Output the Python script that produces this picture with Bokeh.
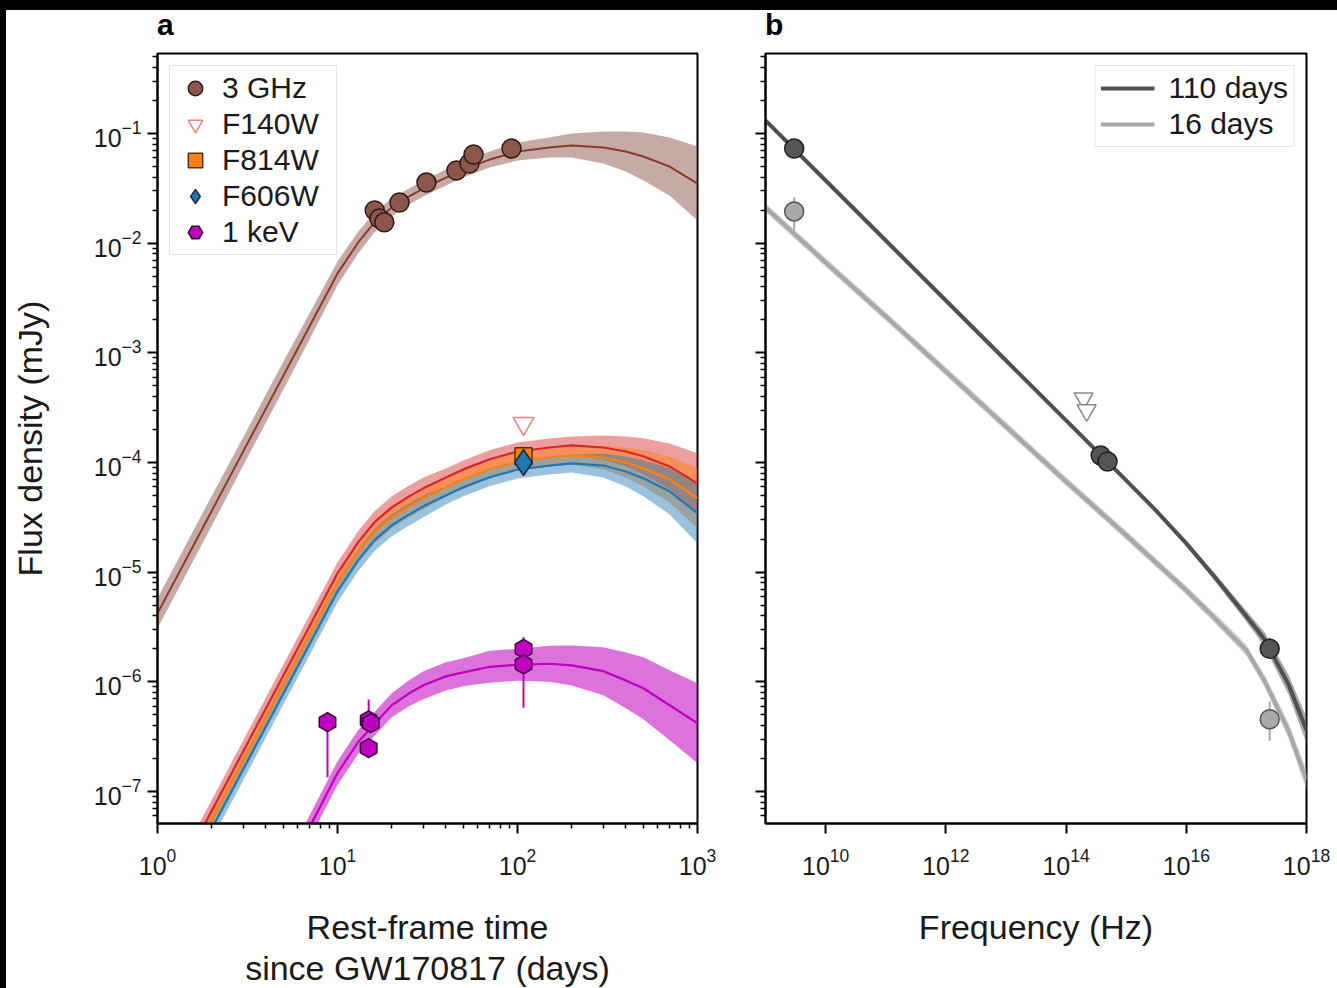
from bokeh.plotting import figure
from bokeh.models import FixedTicker, Legend, LegendItem, Div, CustomJSTickFormatter
from bokeh.layouts import row, column
from bokeh.embed import file_html
from bokeh.resources import INLINE

FONT = "Liberation Sans"

# ---------------- Panel a : light curves ----------------
radio_t = [16.1, 17.1, 18.2, 22.1, 31.2, 45.8, 54.1, 57.0, 92.6]
radio_f = [0.0199, 0.0168, 0.0155, 0.0235, 0.0357, 0.046, 0.0533, 0.0644, 0.073]

f140w_t = [108.0]
f140w_f = [2.27e-4]
f814w_t = [108.0]
f814w_f = [1.14e-4]
f606w_t = [108.0]
f606w_f = [1.0e-4]

xray_t = [8.8, 14.9, 15.3, 14.9, 108.0, 108.0]
xray_f = [4.28e-7, 4.45e-7, 4.2e-7, 2.48e-7, 2.0e-6, 1.44e-6]
xray_lo = [1.35e-7, 4.45e-7, 4.2e-7, 2.48e-7, 2.0e-6, 5.8e-7]
xray_hi = [4.28e-7, 6.9e-7, 4.2e-7, 2.48e-7, 2.55e-6, 1.44e-6]

model_t = [1, 1.5, 2, 3, 4, 5, 7, 10, 13, 16, 20, 25, 30, 40, 50, 70, 100,
           150, 200, 300, 400, 500, 700, 1000]
radio_model = [4.21e-6, 1.48e-5, 3.61e-5, 1.27e-4, 3.10e-4, 6.17e-4, 1.75e-3,
               5.30e-3, 1.01e-2, 1.54e-2, 2.12e-2, 2.67e-2, 3.15e-2, 3.97e-2,
               4.70e-2, 5.79e-2, 6.85e-2, 7.45e-2, 7.77e-2, 7.45e-2, 6.85e-2,
               6.17e-2, 5.00e-2, 3.50e-2]
radio_dex = [0.137, 0.137, 0.137, 0.128, 0.128, 0.128, 0.119, 0.109, 0.100,
             0.091, 0.082, 0.073, 0.073, 0.073, 0.073, 0.073, 0.082, 0.091,
             0.109, 0.146, 0.182, 0.219, 0.264, 0.337]
f140w_model = [7.76e-9, 2.73e-8, 6.65e-8, 2.34e-7, 5.71e-7, 1.14e-6, 3.23e-6,
               9.75e-6, 1.87e-5, 2.84e-5, 3.90e-5, 4.91e-5, 5.81e-5, 7.31e-5,
               8.65e-5, 1.07e-4, 1.26e-4, 1.37e-4, 1.43e-4, 1.37e-4, 1.26e-4,
               1.14e-4, 9.21e-5, 6.45e-5]
f814w_model = [6.29e-9, 2.21e-8, 5.39e-8, 1.90e-7, 4.63e-7, 9.25e-7, 2.62e-6,
               7.91e-6, 1.52e-5, 2.30e-5, 3.16e-5, 3.98e-5, 4.71e-5, 5.93e-5,
               7.02e-5, 8.68e-5, 1.02e-4, 1.11e-4, 1.16e-4, 1.11e-4, 1.00e-4,
               8.86e-5, 7.01e-5, 4.71e-5]
f606w_model = [5.32e-9, 1.87e-8, 4.56e-8, 1.60e-7, 3.91e-7, 7.81e-7, 2.21e-6,
               6.68e-6, 1.28e-5, 1.95e-5, 2.67e-5, 3.36e-5, 3.98e-5, 5.01e-5,
               5.93e-5, 7.33e-5, 8.63e-5, 9.38e-5, 9.80e-5, 9.38e-5, 8.28e-5,
               7.18e-5, 5.45e-5, 3.44e-5]
optical_dex = [0.10, 0.10, 0.10, 0.10, 0.10, 0.10, 0.10, 0.10, 0.10, 0.10,
               0.10, 0.10, 0.10, 0.082, 0.082, 0.082, 0.082, 0.082, 0.082,
               0.109, 0.137, 0.164, 0.21, 0.274]

xray_model_t = [5, 7, 10, 13, 16, 20, 25, 30, 40, 50, 70, 100, 150, 200, 300,
                400, 500, 700, 1000]
xray_model = [1.52e-8, 4.72e-8, 1.47e-7, 2.81e-7, 4.10e-7, 6.11e-7, 7.85e-7,
              9.29e-7, 1.12e-6, 1.22e-6, 1.37e-6, 1.43e-6, 1.46e-6, 1.41e-6,
              1.25e-6, 1.03e-6, 8.73e-7, 6.11e-7, 4.19e-7]
xray_dex = [0.109, 0.109, 0.109, 0.109, 0.109, 0.109, 0.119, 0.128, 0.128,
            0.128, 0.146, 0.146, 0.164, 0.182, 0.219, 0.255, 0.283, 0.319, 0.365]

# ---------------- Panel b : spectra ----------------
nu_model = [1e9, 1e10, 1e11, 1e12, 1e13, 1e14, 1e15, 3e15, 1e16, 3e16, 1e17,
            2e17, 5e17, 1e18]
sed110_model = [0.1314, 3.73e-2, 1.058e-2, 3.00e-3, 8.52e-4, 2.42e-4, 6.87e-5,
                3.74e-5, 1.83e-5, 8.97e-6, 3.96e-6, 2.44e-6, 9.49e-7, 3.61e-7]
sed110_dex = [0.01, 0.01, 0.01, 0.01, 0.01, 0.01, 0.012, 0.015, 0.025, 0.035,
              0.05, 0.065, 0.09, 0.12]
sed16_model = [2.115e-2, 6.67e-3, 2.15e-3, 6.77e-4, 2.13e-4, 6.72e-5, 2.17e-5,
               1.25e-5, 6.83e-6, 3.79e-6, 1.94e-6, 1.02e-6, 3.6e-7, 1.27e-7]
sed16_dex = [0.04, 0.04, 0.04, 0.04, 0.04, 0.04, 0.04, 0.04, 0.04, 0.045,
             0.05, 0.055, 0.07, 0.09]

sed110_nu = [3.0e9, 3.77e14, 4.9e14, 2.44e17]
sed110_f = [0.073, 1.16e-4, 1.02e-4, 2.0e-6]
sed110_lo = [0.073, 1.16e-4, 1.02e-4, 1.7e-6]
sed110_hi = [0.073, 1.16e-4, 1.02e-4, 2.5e-6]
sed110_ul_nu = [1.96e14, 2.2e14]
sed110_ul_f = [3.84e-4, 2.99e-4]
sed16_nu = [3.0e9, 2.44e17]
sed16_f = [0.0195, 4.55e-7]
sed16_lo = [0.0131, 2.9e-7]
sed16_hi = [0.0262, 6.6e-7]


def band(center, dex):
    lo = [c / 10 ** d for c, d in zip(center, dex)]
    hi = [c * 10 ** d for c, d in zip(center, dex)]
    return lo, hi


def decade_ticks(lo_exp, hi_exp):
    major = [10.0 ** e for e in range(lo_exp, hi_exp + 1)]
    minor = [k * 10.0 ** e for e in range(lo_exp - 1, hi_exp + 1) for k in range(2, 10)]
    return major, minor


def style(p):
    for ax in list(p.xaxis) + list(p.yaxis):
        ax.axis_line_width = 2
        ax.axis_line_color = "black"
        ax.major_tick_line_width = 2
        ax.major_tick_line_color = "black"
        ax.minor_tick_line_width = 1.5
        ax.minor_tick_line_color = "black"
        ax.major_tick_out = 10
        ax.major_tick_in = 0
        ax.minor_tick_out = 5
        ax.minor_tick_in = 0
        ax.major_label_text_font = FONT
        ax.major_label_text_font_size = "25px"
        ax.major_label_text_color = "#1a1a1a"
        ax.axis_label_text_font = FONT
        ax.axis_label_text_font_size = "34px"
        ax.axis_label_text_font_style = "normal"
        ax.axis_label_text_line_height = 1.1
        ax.axis_label_text_color = "#1a1a1a"
    p.xgrid.visible = False
    p.ygrid.visible = False
    p.outline_line_color = "black"
    p.outline_line_width = 2


def panel_label(text, width, pad_left):
    html = ('<div style="font-family: \'Liberation Sans\', Arial, sans-serif; font-weight: bold; '
            'font-size: 30px; line-height: 30px; color: black; padding-left: %dpx;">%s</div>'
            % (pad_left, text))
    return Div(text=html, width=width, height=33, margin=0)


Y_RANGE = (5.1e-8, 0.537)
ymaj, ymin = decade_ticks(-7, -1)

# ---------------- figure a ----------------
pa = figure(x_axis_type="log", y_axis_type="log", x_range=(1, 1000), y_range=Y_RANGE,
            frame_width=540, frame_height=770, min_border_left=151, min_border_right=33,
            min_border_top=10, min_border_bottom=165, title=None,
            output_backend="svg", toolbar_location=None)
style(pa)
xmaj, xmin = decade_ticks(0, 3)
pa.xaxis.ticker = FixedTicker(ticks=xmaj, minor_ticks=xmin)
pa.yaxis.ticker = FixedTicker(ticks=ymaj, minor_ticks=ymin)
pa.xaxis.axis_label = "Rest-frame time\nsince GW170817 (days)"
pa.yaxis.axis_label = "Flux density (mJy)"
pa.xaxis.major_label_standoff = 14
pa.yaxis.major_label_standoff = 6
pa.xaxis.axis_label_standoff = 30
pa.yaxis.axis_label_standoff = 42

lo, hi = band(radio_model, radio_dex)
pa.varea(x=model_t, y1=lo, y2=hi, fill_color="#8c564b", fill_alpha=0.5)
for model, col in ((f140w_model, "#d62728"), (f814w_model, "#ff7f0e"), (f606w_model, "#1f77b4")):
    lo, hi = band(model, optical_dex)
    pa.varea(x=model_t, y1=lo, y2=hi, fill_color=col, fill_alpha=0.45)
lo, hi = band(xray_model, xray_dex)
pa.varea(x=xray_model_t, y1=lo, y2=hi, fill_color="#bf00bf", fill_alpha=0.55)

pa.line(model_t, radio_model, line_color="#8c3a2e", line_width=2)
pa.line(model_t, f140w_model, line_color="#d62728", line_width=2.2)
pa.line(model_t, f814w_model, line_color="#ff7f0e", line_width=2.2)
pa.line(model_t, f606w_model, line_color="#1f77b4", line_width=2.2)
pa.line(xray_model_t, xray_model, line_color="#bf00bf", line_width=2.2)

pa.segment(x0=xray_t, y0=xray_lo, x1=xray_t, y1=xray_hi, line_color="#bf00bf", line_width=2)

r_radio = pa.scatter(radio_t, radio_f, marker="circle", size=19, fill_color="#8c564b",
                     line_color="#2b1a16", line_width=1.5)
r_140 = pa.scatter(f140w_t, f140w_f, marker="inverted_triangle", size=21, fill_color="white",
                   line_color="#e8847c", line_width=1.5)
r_814 = pa.scatter(f814w_t, f814w_f, marker="square", size=17, fill_color="#ff7f0e",
                   line_color="#4d3319", line_width=1.5)
r_606 = pa.scatter(f606w_t, f606w_f, marker="diamond", size=26, fill_color="#1f77b4",
                   line_color="#1b2a3a", line_width=1.5)
r_x = pa.scatter(xray_t, xray_f, marker="hex", angle=90, angle_units="deg", size=19,
                 fill_color="#bf00bf", line_color="#3a003a", line_width=1.5)

leg_a = Legend(items=[LegendItem(label="3 GHz", renderers=[r_radio]),
                      LegendItem(label="F140W", renderers=[r_140]),
                      LegendItem(label="F814W", renderers=[r_814]),
                      LegendItem(label="F606W", renderers=[r_606]),
                      LegendItem(label="1 keV", renderers=[r_x])],
               location="top_left", margin=12, padding=4, spacing=0,
               glyph_width=42, glyph_height=36, label_standoff=6, label_width=110,
               label_text_font=FONT, label_text_font_size="30px", label_text_color="#1a1a1a",
               border_line_color="#cccccc", border_line_width=1.5,
               background_fill_color="white", background_fill_alpha=0.9)
pa.add_layout(leg_a)

# ---------------- figure b ----------------
pb = figure(x_axis_type="log", y_axis_type="log", x_range=(1e9, 1e18), y_range=Y_RANGE,
            frame_width=541, frame_height=770, min_border_left=35, min_border_right=31,
            min_border_top=10, min_border_bottom=165, title=None,
            output_backend="svg", toolbar_location=None)
style(pb)
pb.xaxis.ticker = FixedTicker(ticks=[1e10, 1e12, 1e14, 1e16, 1e18], minor_ticks=[])
pb.yaxis.ticker = FixedTicker(ticks=ymaj, minor_ticks=ymin)
pb.yaxis.formatter = CustomJSTickFormatter(code="return ''")
pb.xaxis.axis_label = "Frequency (Hz)"
pb.xaxis.major_label_standoff = 14
pb.xaxis.axis_label_standoff = 30

lo, hi = band(sed16_model, sed16_dex)
pb.varea(x=nu_model, y1=lo, y2=hi, fill_color="#b0b0b0", fill_alpha=0.6)
lo, hi = band(sed110_model, sed110_dex)
pb.varea(x=nu_model, y1=lo, y2=hi, fill_color="#707070", fill_alpha=0.6)
l16 = pb.line(nu_model, sed16_model, line_color="#a8a8a8", line_width=4)
l110 = pb.line(nu_model, sed110_model, line_color="#505050", line_width=4)

pb.segment(x0=sed16_nu, y0=sed16_lo, x1=sed16_nu, y1=sed16_hi, line_color="#a8a8a8", line_width=2)
pb.segment(x0=sed110_nu, y0=sed110_lo, x1=sed110_nu, y1=sed110_hi, line_color="#505050", line_width=2)
pb.scatter(sed110_ul_nu, sed110_ul_f, marker="inverted_triangle", size=19, fill_color="white",
           line_color="#8a8a8a", line_width=1.5)
pb.scatter(sed110_nu, sed110_f, marker="circle", size=19, fill_color="#555555",
           line_color="#1e1e1e", line_width=1.5)
pb.scatter(sed16_nu, sed16_f, marker="circle", size=19, fill_color="#a9a9a9",
           line_color="#555555", line_width=1.5)

leg_b = Legend(items=[LegendItem(label="110 days", renderers=[l110]),
                      LegendItem(label="16 days", renderers=[l16])],
               location="top_right", margin=12, padding=5, spacing=2,
               glyph_width=54, glyph_height=34, label_standoff=14,
               label_text_font=FONT, label_text_font_size="30px", label_text_color="#1a1a1a",
               border_line_color="#cccccc", border_line_width=1.5,
               background_fill_color="white", background_fill_alpha=0.9)
pb.add_layout(leg_b)

top = Div(text="", width=1337, height=10, margin=0, styles={"background-color": "black"})
left = Div(text="", width=6, height=978, margin=0, styles={"background-color": "black"})
col_a = column(panel_label("a", 724, 151), pa, spacing=0)
col_b = column(panel_label("b", 607, 35), pb, spacing=0)
layout = column(top, row(left, col_a, col_b, spacing=0), spacing=0)

open("out.html", "w").write(file_html(layout, INLINE))
